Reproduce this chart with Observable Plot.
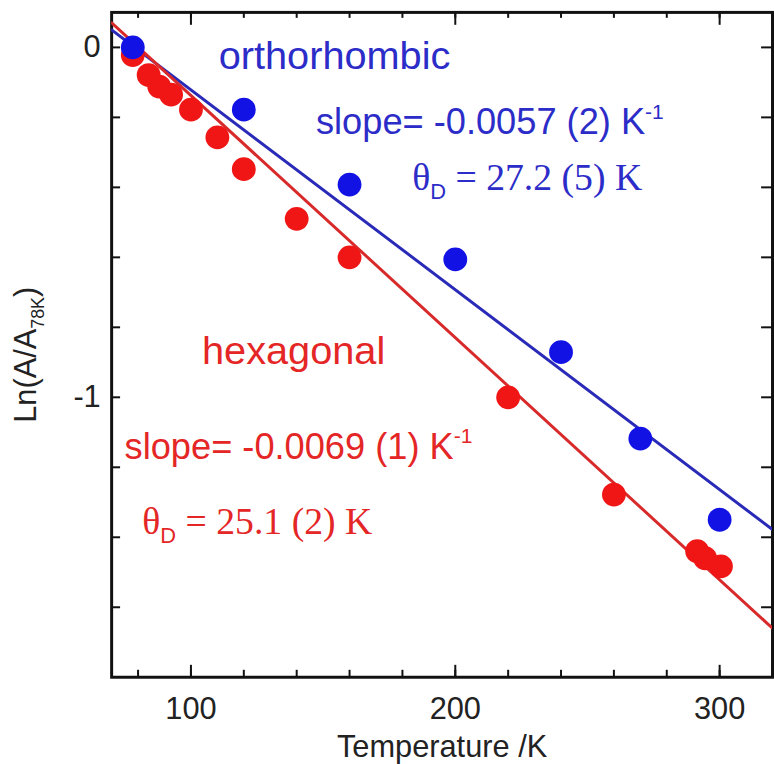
<!DOCTYPE html>
<html><head><meta charset="utf-8">
<script src="https://cdn.jsdelivr.net/npm/d3@7"></script>
<script src="https://cdn.jsdelivr.net/npm/@observablehq/plot@0.6"></script>
<style>
html,body{margin:0;padding:0;background:#fff;overflow:hidden;}
#chart{width:774px;height:764px;overflow:hidden;}
</style></head><body><div id="chart"></div>
<script>
// ---- data ----
const orthoT  = [78, 120, 160, 200, 240, 270, 300];
const orthoLn = [0, -0.178, -0.392, -0.606, -0.871, -1.118, -1.350];

const hexT  = [78, 84, 88, 92.5, 100, 110, 120, 140, 160, 220, 260, 291.5, 294.5, 300.5];
const hexLn = [-0.022, -0.079, -0.112, -0.135, -0.178, -0.257, -0.348, -0.490, -0.600, -1.000, -1.278, -1.440, -1.460, -1.483];

// fitted straight lines (end points)
const fitT      = [70, 320];
const orthoFit  = [0.05, -1.378];
const hexFit    = [0.07, -1.66];

const xMinorTicks = [80, 100, 120, 140, 160, 180, 200, 220, 240, 260, 280, 300, 320];
const xMajorTicks = [100, 200, 300];
const yTicks      = [0, -0.2, -0.4, -0.6, -0.8, -1.0, -1.2, -1.4, -1.6];
const yLabelTicks = [0, -1];

const xLabel = "Temperature /K";
const yLabel = "Ln(A/A_{78K})";

const orthoNotes   = ["orthorhombic", "slope= -0.0057 (2) K^{-1}", "θ_{D} = 27.2 (5) K"];
const orthoNoteT   = [110.5, 147.3, 183.7];
const orthoNoteLn  = [-0.025, -0.215, -0.372];
const hexNotes     = ["hexagonal", "slope= -0.0069 (1) K^{-1}", "θ_{D} = 25.1 (2) K"];
const hexNoteT     = [104.2, 74.9, 81.6];
const hexNoteLn    = [-0.868, -1.142, -1.355];

// ---- layout / style ----
const W = 780, H = 764;
const mL = 112, mR = 2, mT = 12, mB = 82;
const plotW = W - mL - mR, plotH = H - mT - mB;
const BLUE = "#1212e4", RED = "#f01616";
const BLUE_LINE = "#2a2ab8", RED_LINE = "#d82a2a";
const BLUE_TXT = "#2c2cc8", RED_TXT = "#e42626";
const SANS = "Liberation Sans, Arial, sans-serif";
const SERIF = "Liberation Serif, Times New Roman, serif";

const ortho = orthoT.map((t, i) => ({T: t, v: orthoLn[i]}));
const hex = hexT.map((t, i) => ({T: t, v: hexLn[i]}));
const orthoLine = fitT.map((t, i) => ({T: t, v: orthoFit[i]}));
const hexLine = fitT.map((t, i) => ({T: t, v: hexFit[i]}));

const noteStyles = [
  {fontSize: 40, fontFamily: SANS},
  {fontSize: 36.5, fontFamily: SANS},
  {fontSize: 38, fontFamily: SERIF}
];
function noteMarks(texts, Ts, Ls, color) {
  return texts.map((s, i) => Plot.text([{T: Ts[i], v: Ls[i], s}], {
    x: "T", y: "v", text: "s", fill: color, textAnchor: "start", lineAnchor: "middle",
    ...noteStyles[i]
  }));
}

const chart = Plot.plot({
  width: W, height: H,
  marginLeft: mL, marginRight: mR, marginTop: mT, marginBottom: mB,
  style: {fontFamily: SANS, background: "white", color: "#222", overflow: "visible"},
  x: {domain: [70, 320]},
  y: {domain: [-1.8, 0.1]},
  marks: [
    // ticks (inward)
    Plot.ruleX(xMinorTicks, {x: d => d, insetTop: plotH - 7, stroke: "#111", strokeWidth: 2}),
    Plot.ruleX(xMajorTicks, {x: d => d, insetTop: plotH - 12, stroke: "#111", strokeWidth: 2}),
    Plot.ruleX(xMinorTicks, {x: d => d, insetBottom: plotH - 6, stroke: "#111", strokeWidth: 2}),
    Plot.ruleX(xMajorTicks, {x: d => d, insetBottom: plotH - 13, stroke: "#111", strokeWidth: 2}),
    Plot.ruleY(yTicks, {y: d => d, insetRight: plotW - 9, stroke: "#111", strokeWidth: 2}),
    Plot.ruleY(yTicks, {y: d => d, insetLeft: plotW - 11, stroke: "#111", strokeWidth: 2}),
    Plot.frame({stroke: "#111", strokeWidth: 3}),
    Plot.axisX(xMajorTicks, {anchor: "bottom", tickSize: 0, tickPadding: 20, fontSize: 31,
      tickFormat: d => String(d), label: xLabel, labelAnchor: "center", labelArrow: "none", labelOffset: 80, fill: "#222"}),
    Plot.axisY(yLabelTicks, {anchor: "left", tickSize: 0, tickPadding: 11, fontSize: 31,
      tickFormat: d => String(d), label: yLabel, labelAnchor: "center", labelArrow: "none", labelOffset: 98, fill: "#222"}),
    Plot.line(orthoLine, {x: "T", y: "v", stroke: BLUE_LINE, strokeWidth: 3, clip: true}),
    Plot.line(hexLine, {x: "T", y: "v", stroke: RED_LINE, strokeWidth: 3, clip: true}),
    Plot.dot(hex, {x: "T", y: "v", r: 12, fill: RED, stroke: "none"}),
    Plot.dot(ortho, {x: "T", y: "v", r: 12, fill: BLUE, stroke: "none"}),
    ...noteMarks(orthoNotes, orthoNoteT, orthoNoteLn, BLUE_TXT),
    ...noteMarks(hexNotes, hexNoteT, hexNoteLn, RED_TXT)
  ]
});
document.getElementById("chart").appendChild(chart);

// turn _{..} and ^{..} into real sub/superscript tspans
d3.select(chart).selectAll("text").each(function() {
  const el = this;
  const txt = el.textContent;
  if (!/[_^]\{/.test(txt)) return;
  const fs = parseFloat(getComputedStyle(el).fontSize) || 30;
  const parts = [];
  const re = /([_^])\{([^}]*)\}/g;
  let last = 0, m;
  while ((m = re.exec(txt))) {
    if (m.index > last) parts.push({t: txt.slice(last, m.index), k: ""});
    parts.push({t: m[2], k: m[1]});
    last = re.lastIndex;
  }
  if (last < txt.length) parts.push({t: txt.slice(last), k: ""});
  while (el.firstChild) el.removeChild(el.firstChild);
  let shift = 0;
  const sel = d3.select(el);
  const isYLabel = txt.startsWith("Ln(");
  parts.forEach((p, i) => {
    const ts = sel.append("tspan").text(p.t);
    let target = 0;
    if (p.k === "_") { target = 0.25 * fs; ts.attr("font-size", 0.58 * fs).attr("font-family", SANS); }
    if (p.k === "^") { target = -0.42 * fs; ts.attr("font-size", 0.58 * fs); }
    if (target !== shift) { ts.attr("dy", target - shift); shift = target; }
    // the rotated y label sits a little lower in the reference
    if (isYLabel && i === 0) ts.attr("dx", -10);
  });
});
</script>
</body></html>
